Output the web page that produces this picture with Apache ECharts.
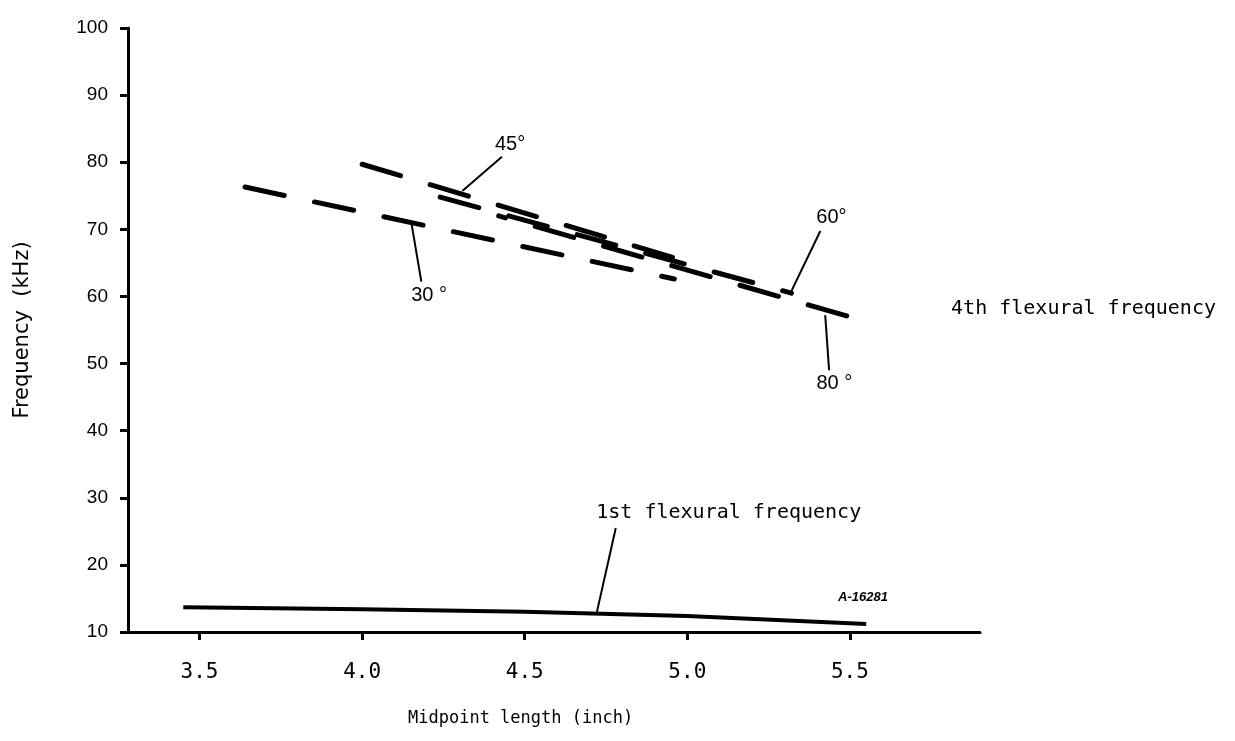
<!DOCTYPE html>
<html>
<head>
<meta charset="utf-8">
<script src="https://cdn.jsdelivr.net/npm/echarts@6/dist/echarts.min.js"></script>
<style>
  html, body { margin: 0; padding: 0; background: #fff; }
  #chart { width: 1235px; height: 741px; }
</style>
</head>
<body>
<div id="chart"></div>
<script>
// x ticks (inch)
const xTicks = [3.5, 4.0, 4.5, 5.0, 5.5];

// 4th flexural frequency, one dashed line per angle
const deg30X = [3.64, 4.96];
const deg30Y = [76.3, 62.6];
const deg45X = [4.0, 4.97];
const deg45Y = [79.7, 65.6];
const deg60X = [4.24, 5.32];
const deg60Y = [74.8, 60.5];
const deg80X = [4.42, 5.49];
const deg80Y = [72.0, 57.1];

// 1st flexural frequency (solid)
const firstX = [3.45, 4.0, 4.5, 5.0, 5.55];
const firstY = [13.7, 13.4, 13.0, 12.4, 11.2];

// leader lines: [x1, y1, x2, y2]
const leader45 = [4.308, 75.7, 4.43, 80.8];
const leader30 = [4.151, 71.1, 4.182, 62.2];
const leader60 = [5.317, 60.5, 5.409, 69.75];
const leader80 = [5.424, 57.2, 5.436, 49.0];
const leader1st = [4.722, 13.0, 4.78, 25.5];

// text notes
const noteText = ['45°', '30 °', '60°', '80 °', '1st flexural frequency', '4th flexural frequency', 'A-16281'];
const noteX = [4.455, 4.206, 5.443, 5.452, 4.72, 5.811, 5.54];
const noteY = [82.7, 60.2, 71.8, 47.1, 27.7, 58.1, 15.2];

const ink = '#000';
const mono = 'DejaVu Sans Mono';
const sans = 'Liberation Sans';

const zip = (xs, ys) => xs.map((x, i) => [x, ys[i]]);

function dashed(xs, ys, offset) {
  return {
    type: 'line',
    data: zip(xs, ys),
    showSymbol: false,
    silent: true,
    lineStyle: { color: ink, width: 5, type: [40, 31], dashOffset: offset || 0, cap: 'round' }
  };
}

function leader(p) {
  return {
    type: 'line',
    data: [[p[0], p[1]], [p[2], p[3]]],
    showSymbol: false,
    silent: true,
    lineStyle: { color: ink, width: 2 }
  };
}

const noteStyle = i => {
  if (i === 4 || i === 5) {
    return { fontFamily: mono, fontSize: 20, align: 'left', verticalAlign: 'middle' };
  }
  if (i === 6) {
    return { fontFamily: sans, fontSize: 13, fontStyle: 'italic', fontWeight: 'bold', align: 'center', verticalAlign: 'middle' };
  }
  return { fontFamily: sans, fontSize: 20, align: 'center', verticalAlign: 'middle' };
};

const chart = echarts.init(document.getElementById('chart'));
chart.setOption({
  backgroundColor: '#fff',
  animation: false,
  grid: { left: 128, right: 255, top: 28, bottom: 109 },
  xAxis: {
    type: 'value',
    min: 3.28,
    max: 5.9,
    axisLine: { lineStyle: { color: ink, width: 3 } },
    axisTick: { show: true, customValues: xTicks, length: 8, lineStyle: { color: ink, width: 3 } },
    axisLabel: {
      customValues: xTicks,
      formatter: v => v.toFixed(1),
      color: ink, fontFamily: mono, fontSize: 21, margin: 30
    },
    splitLine: { show: false }
  },
  yAxis: {
    type: 'value',
    min: 10,
    max: 100,
    interval: 10,
    name: 'Frequency  (kHz)',
    nameLocation: 'middle',
    nameGap: 95,
    nameTextStyle: { color: ink, fontFamily: 'DejaVu Sans', fontSize: 21 },
    axisLine: { lineStyle: { color: ink, width: 3 } },
    axisTick: { length: 8, lineStyle: { color: ink, width: 3 } },
    axisLabel: { color: ink, fontFamily: sans, fontSize: 19, margin: 20 },
    splitLine: { show: false }
  },
  graphic: [{
    type: 'text',
    left: 408,
    top: 710,
    style: { text: 'Midpoint length (inch)', fill: ink, font: '17px "DejaVu Sans Mono"' }
  }],
  series: [
    dashed(deg30X, deg30Y),
    dashed(deg45X, deg45Y),
    dashed(deg60X, deg60Y),
    dashed(deg80X, deg80Y, 33),
    {
      type: 'line',
      data: zip(firstX, firstY),
      showSymbol: false,
      silent: true,
      lineStyle: { color: ink, width: 4 }
    },
    leader(leader45),
    leader(leader30),
    leader(leader60),
    leader(leader80),
    leader(leader1st),
    {
      type: 'scatter',
      symbolSize: 0,
      silent: true,
      itemStyle: { opacity: 1 },
      data: noteText.map((t, i) => ({
        value: [noteX[i], noteY[i]],
        name: t,
        label: Object.assign({ show: true, position: 'inside', formatter: t, color: ink }, noteStyle(i))
      }))
    }
  ]
});
</script>
</body>
</html>
